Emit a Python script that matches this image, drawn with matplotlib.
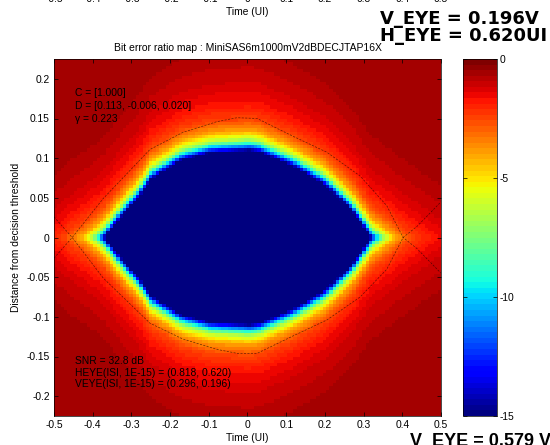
import numpy as np
import matplotlib
matplotlib.use('Agg')
import matplotlib.pyplot as plt

plt.rcParams['font.family'] = ['Liberation Sans', 'DejaVu Sans']
plt.rcParams['axes.unicode_minus'] = False

# inner edge of the eye (BER 1e-15) as half height vs time
edge_t = [-0.5, -0.458, -0.407, -0.373, -0.33, -0.286, -0.252, -0.174, -0.097,
          0.006, 0.032, 0.118, 0.205, 0.273, 0.322, 0.356, 0.407, 0.5]
edge_h = [-0.048, -0.031, -0.014, 0.0, 0.026, 0.050, 0.074, 0.098, 0.108,
          0.111, 0.109, 0.091, 0.066, 0.034, 0.0, -0.012, -0.031, -0.062]

# log10(BER) vs vertical distance outside that edge
dist = [0.0, 0.004, 0.008, 0.014, 0.025, 0.04, 0.06, 0.09, 0.13, 0.3]
log_ber = [-15, -12, -9.5, -6.5, -4.0, -2.5, -1.7, -1.1, -0.7, -0.5]

# dashed eye contours (upper and lower rails)
cont_t = [-0.5, -0.453, -0.373, -0.252, -0.167, -0.079, -0.027, 0.025,
          0.118, 0.205, 0.291, 0.360, 0.402, 0.438, 0.5]
cont_upper = [-0.026, 0.0, 0.049, 0.111, 0.1325, 0.146, 0.151, 0.150,
              0.1275, 0.1075, 0.0775, 0.04, 0.0, -0.014, -0.045]
cont_lower = [0.026, 0.0, -0.051, -0.108, -0.128, -0.141, -0.146, -0.146,
              -0.124, -0.104, -0.075, -0.04, 0.0, 0.014, 0.045]

x_ticks = [-0.5, -0.4, -0.3, -0.2, -0.1, 0, 0.1, 0.2, 0.3, 0.4, 0.5]
y_ticks = [-0.2, -0.15, -0.1, -0.05, 0, 0.05, 0.1, 0.15, 0.2]
cbar_ticks = [-15, -10, -5, 0]

title = 'Bit error ratio map : MiniSAS6m1000mV2dBDECJTAP16X'
top_notes = ['C = [1.000]', 'D = [0.113, -0.006, 0.020]', '\u03b3 = 0.223']
bottom_notes = ['SNR = 32.8 dB', 'HEYE(ISI, 1E-15) = (0.818, 0.620)',
                'VEYE(ISI, 1E-15) = (0.296, 0.196)']

# build the map on the sampling grid
t_grid = np.linspace(-0.5, 0.5, 118)
y_grid = np.linspace(-0.225, 0.225, 108)
h = np.interp(t_grid, edge_t, edge_h)
d = np.abs(y_grid)[:, None] - h[None, :]
ber_map = np.interp(d, dist, log_ber)

W, H = 550, 445
fig = plt.figure(figsize=(W / 100, H / 100), dpi=100)
fs = 7.4


def px_axes(l, t, r, b):
    return fig.add_axes([l / W, (H - b) / H, (r - l) / W, (b - t) / H])


def style(a):
    a.tick_params(direction='in', length=3, width=0.5, labelsize=fs,
                  top=True, right=True, pad=3)
    for s in a.spines.values():
        s.set_linewidth(0.5)


ax = px_axes(54, 59, 441, 416)
cmap = plt.get_cmap('jet', 64)
im = ax.imshow(ber_map, origin='lower', aspect='auto', cmap=cmap,
               vmin=-15, vmax=0, interpolation='nearest',
               extent=[-0.5, 0.5, -0.225, 0.225])
ax.plot(cont_t, cont_upper, color='k', lw=0.5, dashes=(3, 2), alpha=0.6)
ax.plot(cont_t, cont_lower, color='k', lw=0.5, dashes=(3, 2), alpha=0.6)
ax.set_xlim(-0.5, 0.5)
ax.set_ylim(-0.225, 0.225)
ax.set_xticks(x_ticks)
ax.set_xticklabels(['%g' % v for v in x_ticks])
ax.set_yticks(y_ticks)
ax.set_yticklabels(['%g' % v for v in y_ticks])
style(ax)
ax.set_xlabel('Time (UI)', fontsize=fs, labelpad=2)
ax.set_ylabel('Distance from decision threshold', fontsize=fs, labelpad=4)
ax.set_title(title, fontsize=7.5, pad=6)

for i, s in enumerate(top_notes):
    ax.text(0.054, 0.905 - i * 0.0364, s, transform=ax.transAxes,
            fontsize=fs, va='center')
for i, s in enumerate(bottom_notes):
    ax.text(0.054, 0.154 - i * 0.0322, s, transform=ax.transAxes,
            fontsize=fs, va='center')

# colorbar
cax = px_axes(463, 59, 497, 416)
cb = fig.colorbar(im, cax=cax, ticks=cbar_ticks)
cb.outline.set_linewidth(0.5)
cax.set_yticklabels(['%g' % v for v in cbar_ticks])
cax.tick_params(direction='in', length=3, width=0.5, labelsize=fs,
                left=True, right=True, pad=2)

# remnant of the plot above (cut by the figure edge)
ax_up = px_axes(54, -200, 441, -10)
ax_up.set_xlim(-0.5, 0.5)
ax_up.set_xticks(x_ticks)
ax_up.set_xticklabels(['%g' % v for v in x_ticks])
ax_up.set_yticks([])
style(ax_up)
ax_up.set_xlabel('Time (UI)', fontsize=fs, labelpad=2)

big = dict(fontsize=13, fontweight='bold', family='DejaVu Sans', va='baseline')
fig.text(380 / W, (H - 24) / H, 'V_EYE = 0.196V', **big)
fig.text(380 / W, (H - 41) / H, 'H_EYE = 0.620UI', **big)
fig.text(410 / W, 0.0, 'V_EYE = 0.579 V', fontsize=13, fontweight='bold',
         family='Liberation Sans', va='baseline')

fig.savefig('out.png', dpi=100)
